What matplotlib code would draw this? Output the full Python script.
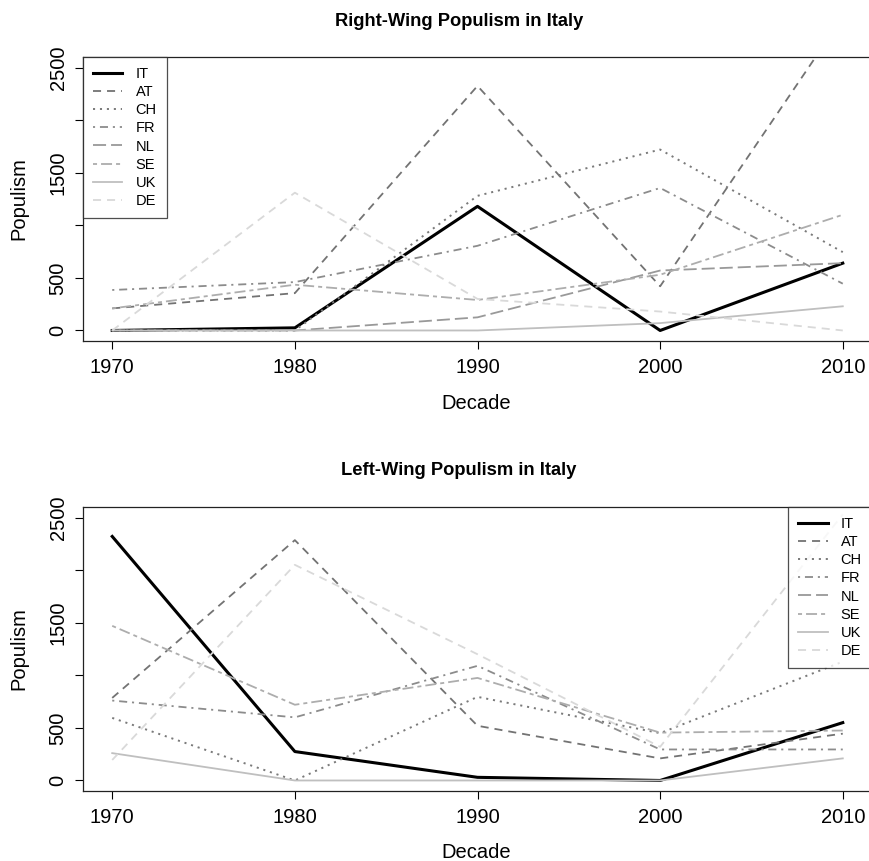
import numpy as np
import matplotlib
matplotlib.use("Agg")
import matplotlib.pyplot as plt

plt.rcParams['font.family'] = ['Liberation Sans', 'DejaVu Sans']
plt.rcParams['lines.scale_dashes'] = False

decades = [1970, 1980, 1990, 2000, 2010]
countries = ["IT", "AT", "CH", "FR", "NL", "SE", "UK", "DE"]

# right-wing populism scores per decade
right_IT = [0, 25, 1180, 0, 640]
right_AT = [210, 355, 2325, 420, 2980]
right_CH = [0, 0, 1280, 1720, 745]
right_FR = [385, 460, 805, 1355, 445]
right_NL = [0, 0, 125, 570, 640]
right_SE = [210, 435, 290, 530, 1100]
right_UK = [0, 0, 0, 70, 230]
right_DE = [0, 1310, 300, 180, 0]

# left-wing populism scores per decade (no NL series)
left_IT = [2320, 275, 30, 0, 550]
left_AT = [785, 2285, 520, 210, 445]
left_CH = [595, 0, 795, 450, 1130]
left_FR = [760, 600, 1090, 295, 295]
left_NL = [np.nan, np.nan, np.nan, np.nan, np.nan]
left_SE = [1470, 720, 975, 455, 475]
left_UK = [260, 0, 0, 0, 210]
left_DE = [195, 2050, 1200, 320, 2530]

yticks = [0, 500, 1000, 1500, 2000, 2500]
ytick_labels = ["0", "500", "", "1500", "", "2500"]

# R-like line types: solid, dashed, dotted, dotdash, longdash, twodash (in points)
lty = {
    "solid": "-",
    "dashed": (0, (5.8, 4.3)),
    "dotted": (0, (1.5, 3.5)),
    "dotdash": (0, (1.5, 3.5, 5.8, 3.5)),
    "longdash": (0, (9.4, 3.6)),
    "twodash": (0, (2.9, 2.9, 7.9, 2.9)),
}
styles = ["solid", "dashed", "dotted", "dotdash", "longdash", "twodash", "solid", "dashed"]
greys = ["0.0", "0.45", "0.48", "0.55", "0.6", "0.68", "0.75", "0.85"]
widths = [2.2, 1.3, 1.4, 1.3, 1.3, 1.3, 1.3, 1.3]

W, H = 870, 861
fig = plt.figure(figsize=(W / 100, H / 100), dpi=100)


def px_axes(left, top, right, bottom):
    return fig.add_axes([left / W, 1 - bottom / H, (right - left) / W, (bottom - top) / H])


def draw_panel(ax, series, title, legend_loc, title_y, xlabel_y, ylabel_y):
    for name, vals, st, col, lw in zip(countries, series, styles, greys, widths):
        ax.plot(decades, vals, color=col, linestyle=lty[st], linewidth=lw, label=name)
    ax.set_xlim(1968.4, 2011.6)
    ax.set_ylim(-100, 2600)
    ax.set_xticks(decades)
    ax.set_yticks(yticks)
    ax.set_yticklabels(ytick_labels, rotation=90, va="center")
    ax.tick_params(direction="out", length=6, width=0.8, labelsize=14.5, color="black")
    ax.tick_params(axis="x", pad=6)
    ax.tick_params(axis="y", pad=5)
    for sp in ax.spines.values():
        sp.set_linewidth(0.9)
        sp.set_color("#222222")
    leg = ax.legend(loc=legend_loc, borderaxespad=0, fontsize=10.5, fancybox=False,
                    handlelength=2.0, labelspacing=0.28, borderpad=0.7, handletextpad=0.9)
    leg.get_frame().set_edgecolor("#222222")
    leg.get_frame().set_linewidth(0.9)
    fig.text(459 / W, 1 - title_y / H, title, ha="center", va="center",
             fontsize=13.2, fontweight="bold")
    fig.text(476 / W, 1 - xlabel_y / H, "Decade", ha="center", va="center", fontsize=14.5)
    fig.text(19 / W, 1 - ylabel_y / H, "Populism", ha="center", va="center",
             rotation=90, fontsize=14.5)


ax1 = px_axes(83, 57, 872, 341)
draw_panel(ax1, [right_IT, right_AT, right_CH, right_FR, right_NL, right_SE, right_UK, right_DE],
           "Right-Wing Populism in Italy", "upper left", 21, 404, 199)

ax2 = px_axes(83, 507, 872, 791)
draw_panel(ax2, [left_IT, left_AT, left_CH, left_FR, left_NL, left_SE, left_UK, left_DE],
           "Left-Wing Populism in Italy", "upper right", 471, 853, 649)

fig.savefig("out.png", dpi=100)
